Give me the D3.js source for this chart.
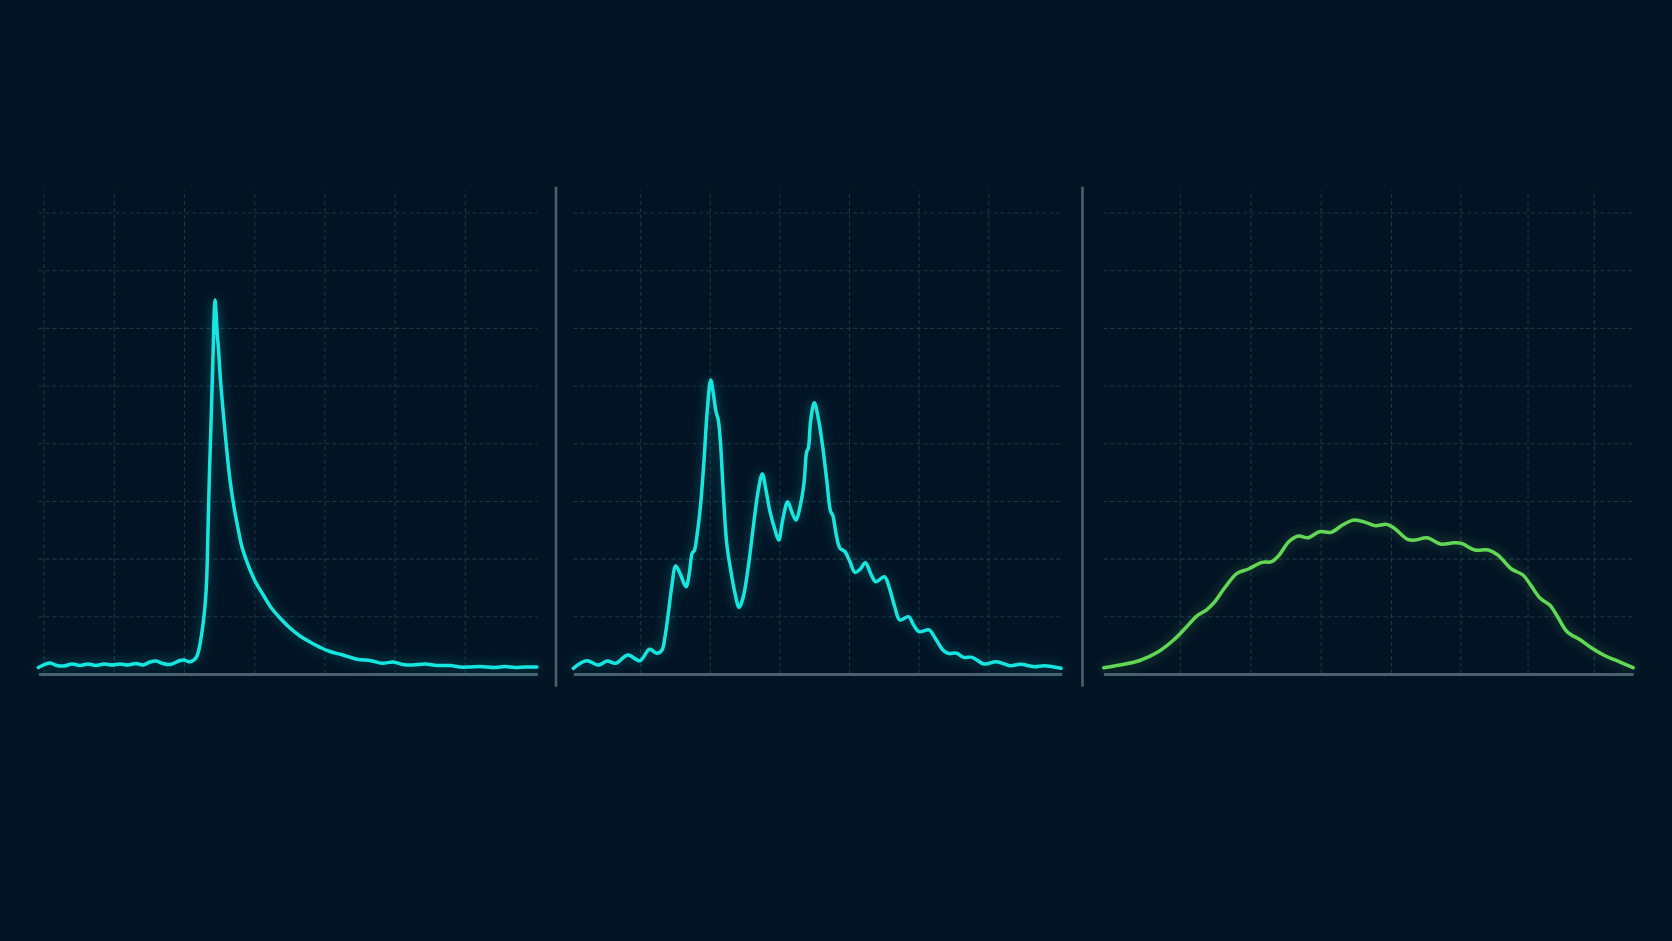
<!DOCTYPE html>
<html>
<head>
<meta charset="utf-8">
<script src="https://cdn.jsdelivr.net/npm/d3@7"></script>
<style>
  html, body { margin: 0; padding: 0; background: #021324; }
  svg { display: block; }
</style>
</head>
<body>
<svg id="chart" width="1672" height="941"></svg>
<script>
// ---------- DATA ----------
const seriesA_x = [-0.74,0.20,0.91,1.91,2.91,4.05,5.19,6.32,7.46,8.60,9.74,10.88,12.02,13.16,14.16,15.16,16.01,17.01,18.01,19.43,20.00,20.57,20.99,21.42,21.81,22.11,22.38,22.64,22.89,23.06,23.23,23.42,23.60,23.82,24.03,24.17,24.27,24.42,24.59,24.74,24.89,25.20,25.60,26.05,26.55,27.12,27.74,28.26,28.93,29.54,30.26,31.30,32.45,33.68,35.10,36.52,37.95,39.57,40.80,42.64,44.64,46.64,48.21,49.77,51.20,52.62,54.33,56.04,57.89,59.32,60.74,62.17,64.30,65.73,67.15,68.58,70.28];
const seriesA_y = [1.13,1.65,1.91,1.47,1.39,1.73,1.47,1.73,1.47,1.73,1.56,1.73,1.56,1.82,1.56,2.08,2.25,1.82,1.65,2.34,2.43,2.17,2.17,2.43,3.00,4.16,5.89,7.97,10.52,12.82,16.29,24.96,33.62,42.29,50.95,56.72,61.35,64.82,62.22,58.75,56.72,50.95,45.18,39.34,33.62,28.94,24.96,22.01,19.58,17.68,15.77,13.69,11.44,9.71,7.97,6.59,5.55,4.51,3.90,3.29,2.55,2.31,1.85,2.08,1.65,1.56,1.73,1.47,1.47,1.21,1.21,1.30,1.13,1.30,1.13,1.21,1.21];

const seriesB_x = [-9.60,-7.72,-5.99,-4.76,-3.51,-1.78,-0.04,1.34,2.41,3.13,3.56,4.04,4.53,5.10,5.72,6.58,7.05,7.49,7.77,8.20,8.69,9.17,9.64,10.13,10.50,10.89,11.22,11.57,11.94,12.43,13.00,13.62,14.20,14.81,15.53,16.25,16.97,17.54,18.07,18.65,19.37,19.90,20.47,21.19,21.77,22.39,22.96,23.53,23.92,24.15,24.50,25.01,25.59,26.22,26.80,27.37,27.66,28.13,28.71,29.43,30.14,30.86,31.58,32.36,33.10,33.84,35.09,35.82,36.57,37.31,38.55,39.28,40.03,41.51,42.26,43.49,44.24,45.47,46.47,47.70,49.43,51.16,53.13,54.63,56.61,58.09,60.46];
const seriesB_y = [0.99,2.30,1.56,2.25,1.85,3.29,2.30,4.28,3.59,4.16,6.46,10.52,15.13,18.72,17.45,15.13,17.45,21.02,21.37,24.38,29.58,37.09,45.75,50.95,48.65,45.46,44.02,39.39,31.32,22.65,18.02,13.99,11.56,13.40,18.60,25.53,31.89,34.66,31.89,28.13,24.96,23.22,26.69,29.86,28.13,26.69,28.99,33.05,38.52,39.11,44.02,47.02,44.31,39.39,33.62,28.13,27.55,24.38,21.78,21.19,19.46,17.62,18.14,19.29,17.45,16.00,16.86,14.85,11.66,9.36,9.93,8.49,7.33,7.63,6.46,4.16,3.59,3.59,2.89,2.89,1.73,2.13,1.44,1.68,1.27,1.44,0.99];

const seriesC_x = [-10.81,-8.52,-5.79,-3.06,-0.88,0.77,2.40,3.77,4.86,6.50,8.14,9.77,11.69,13.04,14.14,15.50,16.87,18.24,19.87,21.51,23.14,24.78,26.43,27.80,29.43,30.53,32.43,33.53,35.16,37.07,38.99,40.07,41.99,43.90,45.26,47.18,48.82,49.91,51.27,52.63,53.73,55.09,57.01,58.65,60.28,61.92,64.48];
const seriesC_y = [1.09,1.56,2.30,3.86,5.89,7.92,10.05,11.09,12.36,15.13,17.45,18.20,19.36,19.46,20.62,22.93,23.92,23.62,24.66,24.56,25.82,26.69,26.29,25.70,25.94,25.25,23.34,23.22,23.62,22.53,22.75,22.65,21.49,21.49,20.62,18.20,17.16,15.42,13.12,11.96,9.93,7.33,5.89,4.45,3.29,2.43,1.09];

const xDomainA = [-0.74, 70.34];
const xDomainB = [-9.60, 60.56];
const xDomainC = [-10.87, 64.48];
const xTicksA = [0, 10, 20, 30, 40, 50, 60];
const xTicksB = [0, 10, 20, 30, 40, 50];
const xTicksC = [0, 10.04, 20.04, 30.04, 39.9, 49.46, 58.88];
const yDomain = [0, 83.9];
const yTicks = [10, 20, 30, 40, 50, 60, 70, 80];

// ---------- LAYOUT / STYLE ----------
const W = 1672, H = 941;
const plotTop = 190, plotBottom = 674;
const panels = [
  { x: seriesA_x, y: seriesA_y, dom: xDomainA, ticks: xTicksA, left: 38.4, right: 537.4, color: "#19e6e0" },
  { x: seriesB_x, y: seriesB_y, dom: xDomainB, ticks: xTicksB, left: 573.4, right: 1061.7, color: "#19e6e0" },
  { x: seriesC_x, y: seriesC_y, dom: xDomainC, ticks: xTicksC, left: 1103.4, right: 1633.1, color: "#62d857" }
];
const separators = [556, 1082.5];

const svg = d3.select("#chart");
svg.append("rect").attr("width", W).attr("height", H).attr("fill", "#021324");

const defs = svg.append("defs");
const f = defs.append("filter").attr("id", "glow")
  .attr("filterUnits", "userSpaceOnUse").attr("x", 0).attr("y", 0).attr("width", W).attr("height", H);
f.append("feGaussianBlur").attr("in", "SourceGraphic").attr("stdDeviation", 6).attr("result", "b");
f.append("feComponentTransfer").attr("in", "b").attr("result", "b2")
  .append("feFuncA").attr("type", "linear").attr("slope", 0.4);
const m = f.append("feMerge");
m.append("feMergeNode").attr("in", "b2");
m.append("feMergeNode").attr("in", "SourceGraphic");

const y = d3.scaleLinear().domain(yDomain).range([plotBottom, plotTop]);
const gridColor = "#1b3649";

panels.forEach(p => {
  const x = d3.scaleLinear().domain(p.dom).range([p.left, p.right]);
  const g = svg.append("g");

  // horizontal grid
  g.append("g")
    .attr("transform", `translate(${p.left},0)`)
    .call(d3.axisLeft(y).tickValues(yTicks).tickSize(-(p.right - p.left)).tickFormat(""))
    .call(s => s.select(".domain").remove())
    .call(s => s.selectAll("line").attr("stroke", gridColor).attr("stroke-width", 1.1).attr("stroke-dasharray", "4,3"));

  // vertical grid
  g.append("g")
    .attr("transform", `translate(0,${plotBottom})`)
    .call(d3.axisBottom(x).tickValues(p.ticks).tickSize(-(plotBottom - plotTop)).tickFormat(""))
    .call(s => s.select(".domain").remove())
    .call(s => s.selectAll("line").attr("stroke", gridColor).attr("stroke-width", 1.1).attr("stroke-dasharray", "4,3"));

  // baseline axis
  g.append("g")
    .attr("transform", `translate(0,${plotBottom})`)
    .call(d3.axisBottom(x).tickValues([]).tickSizeOuter(0))
    .call(s => s.select(".domain").attr("stroke", "#4b5f6e").attr("stroke-width", 3));

  const data = p.x.map((v, i) => [v, p.y[i]]);
  const line = d3.line().x(d => x(d[0])).y(d => y(d[1])).curve(d3.curveCatmullRom.alpha(0.5));
  g.append("path")
    .datum(data)
    .attr("d", line)
    .attr("fill", "none")
    .attr("stroke", p.color)
    .attr("stroke-width", 3.5)
    .attr("stroke-linejoin", "round")
    .attr("stroke-linecap", "round")
    .attr("filter", "url(#glow)");
});

separators.forEach(sx => {
  svg.append("line")
    .attr("x1", sx).attr("x2", sx)
    .attr("y1", 186.7).attr("y2", 686.7)
    .attr("stroke", "#4b5f6e").attr("stroke-width", 2.6);
});
</script>
</body>
</html>
